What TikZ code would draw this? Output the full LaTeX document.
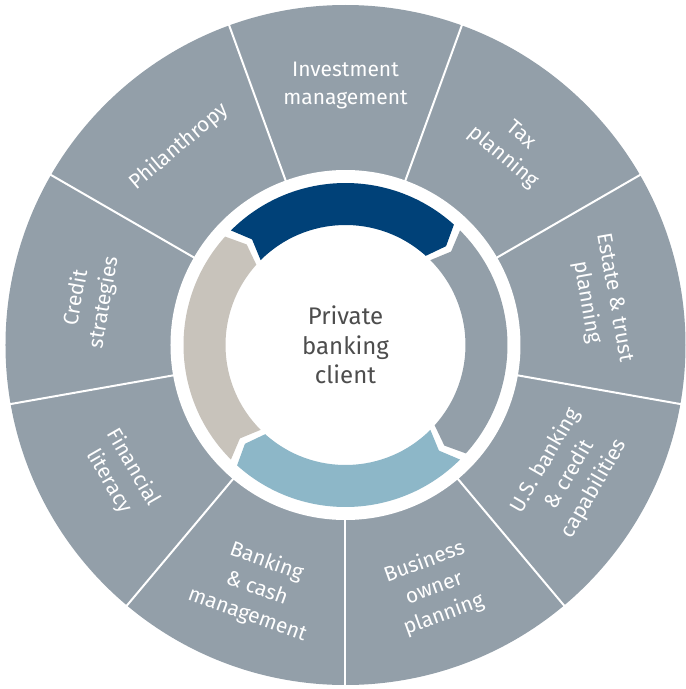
\documentclass[tikz,border=0pt]{standalone}
\usepackage{fontspec}
\setmainfont{Fira Sans}
\usepackage{tikz}

\definecolor{ringgray}{RGB}{147,159,169}
\definecolor{darkblue}{RGB}{0,65,120}
\definecolor{lightblue}{RGB}{141,183,200}
\definecolor{beige}{RGB}{200,195,187}
\definecolor{clienttext}{RGB}{77,77,77}

\begin{document}
\begin{tikzpicture}[x=1pt,y=1pt,
        field/.style={text=white,font=\fontsize{21}{28}\selectfont,align=center},
        divider/.style={white,line width=2pt}]
        \useasboundingbox (-345.5,-344) rectangle (340.5,345);

        \fill[ringgray] (0,0) circle (340);
        \foreach \a in {30,70,...,350}
            \draw[divider] (\a:170) -- (\a:342);
        \fill[white] (0,0) circle (175);

        \foreach \c/\col in {90/darkblue,0/ringgray,-90/lightblue,180/beige}
            \fill[\col] (\c+45:162) arc[start angle=\c+45,end angle=\c-42,radius=162]
                -- (\c-45.5:141) -- (\c-42:120)
                arc[start angle=\c-42,end angle=\c+45,radius=120]
                -- (\c+41.5:141) -- cycle;

        \node[text=clienttext,font=\fontsize{24}{29.5}\selectfont,align=center] (client) at (0,0) {Private\\banking\\client};

        \node[field] (invest) at (90:259) {Investment\\management};
        \node[field,rotate=-40] (tax) at (50:259) {Tax\\planning};
        \node[field,rotate=-80] (estate) at (10:259) {Estate \& trust\\planning};
        \node[field,rotate=60] (usbank) at (330:259) {U.S. banking\\\& credit\\capabilities};
        \node[field,rotate=20] (owner) at (290:259) {Business\\owner\\planning};
        \node[field,rotate=-20] (cash) at (250:259) {Banking\\\& cash\\management};
        \node[field,rotate=-60] (literacy) at (210:259) {Financial\\literacy};
        \node[field,rotate=80] (credit) at (170:259) {Credit\\strategies};
        \node[field,rotate=40] (phil) at (130:259) {Philanthropy};
\end{tikzpicture}
\end{document}
